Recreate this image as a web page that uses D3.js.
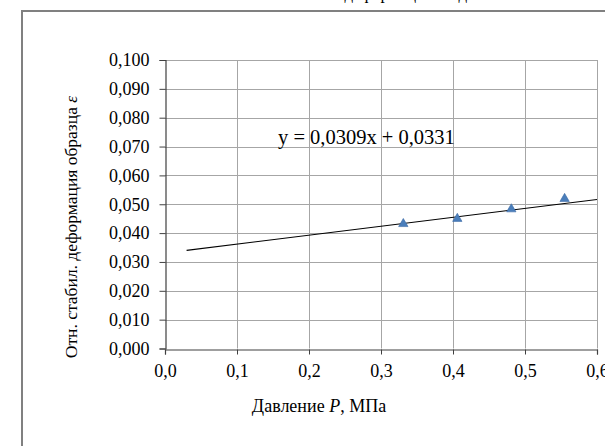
<!DOCTYPE html>
<html>
<head>
<meta charset="utf-8">
<script src="https://cdn.jsdelivr.net/npm/d3@7"></script>
<style>
  html, body { margin: 0; padding: 0; background: #fff; overflow: hidden; }
</style>
</head>
<body>
<svg id="chart" width="605" height="446"></svg>
<script>
// Measured pressure (MPa) and stabilised relative strain of the sample
const pressure = [0.331, 0.406, 0.481, 0.555];
const strain = [0.0432, 0.0450, 0.0483, 0.0519];

// Linear trend: y = 0.0309x + 0.0331, drawn from 0.03 to 0.6
const trendSlope = 0.0309;
const trendIntercept = 0.0331;
const trendRange = [0.03, 0.6];
const trendLabel = "y = 0,0309x + 0,0331";

const xTicks = [0, 0.1, 0.2, 0.3, 0.4, 0.5, 0.6];
const yTicks = [0, 0.01, 0.02, 0.03, 0.04, 0.05, 0.06, 0.07, 0.08, 0.09, 0.1];

const titleText = "Зависимость относительной деформации от давления";
const xTitle = ["Давление ", "P", ", МПа"];
const yTitle = ["Отн. стабил. деформация образца ", "ε"];

const FONT = "Liberation Serif";
const svg = d3.select("#chart");
const comma = s => s.replace(".", ",");

const x = d3.scaleLinear().domain([0, 0.6]).range([165, 597]);
const y = d3.scaleLinear().domain([0, 0.1]).range([348.5, 60]);

// chart frame
svg.append("rect")
  .attr("x", 22).attr("y", 11).attr("width", 700).attr("height", 500)
  .attr("fill", "none").attr("stroke", "#808080").attr("stroke-width", 2);

// title (sits above the visible area)
svg.append("text")
  .attr("x", 330).attr("y", -1).attr("text-anchor", "middle")
  .style("font-family", FONT).style("font-size", "17px").attr("fill", "#000")
  .text(titleText);

// gridlines
const grid = svg.append("g").attr("stroke", "#a6a6a6").attr("stroke-width", 1);
grid.selectAll("line.h").data(yTicks.slice(1)).join("line")
  .attr("x1", x(0)).attr("x2", x(0.6))
  .attr("y1", d => Math.round(y(d)) + 0.5).attr("y2", d => Math.round(y(d)) + 0.5);
grid.selectAll("line.v").data(xTicks.slice(1)).join("line")
  .attr("y1", y(0)).attr("y2", y(0.1))
  .attr("x1", d => Math.round(x(d)) + 0.5).attr("x2", d => Math.round(x(d)) + 0.5);

// axes
const xAxis = d3.axisBottom(x).tickValues(xTicks).tickSize(5).tickPadding(10)
  .tickFormat(d => comma(d3.format(".1f")(d)));
const yAxis = d3.axisLeft(y).tickValues(yTicks).tickSize(6).tickPadding(10)
  .tickFormat(d => comma(d3.format(".3f")(d)));

const gx = svg.append("g").attr("transform", `translate(0,${Math.round(y(0)) + 0.5})`).call(xAxis);
const gy = svg.append("g").attr("transform", `translate(${Math.round(x(0)) + 0.5},0)`).call(yAxis);
[gx, gy].forEach(g => {
  g.select(".domain").attr("stroke", "#404040").attr("stroke-width", 1.2);
  g.selectAll(".tick line").attr("stroke", "#404040");
  g.selectAll(".tick text").style("font-family", FONT).style("font-size", "18px").attr("fill", "#000");
});
gx.selectAll(".tick text").attr("dy", "0.68em");

// trend line
svg.append("line")
  .attr("x1", x(trendRange[0])).attr("y1", y(trendIntercept + trendSlope * trendRange[0]))
  .attr("x2", x(trendRange[1])).attr("y2", y(trendIntercept + trendSlope * trendRange[1]))
  .attr("stroke", "#000").attr("stroke-width", 1.1);

// data markers
svg.selectAll("path.pt").data(pressure).join("path")
  .attr("class", "pt")
  .attr("d", d3.symbol().type(d3.symbolTriangle).size(38))
  .attr("transform", (d, i) => `translate(${x(d)},${y(strain[i])})`)
  .attr("fill", "#4a7ebb").attr("stroke", "#3a6aa5").attr("stroke-width", 0.6);

// equation label
svg.append("text")
  .attr("x", 278).attr("y", 144)
  .style("font-family", FONT).style("font-size", "20.5px").attr("fill", "#000")
  .text(trendLabel);

// axis titles
const xt = svg.append("text").attr("x", 319).attr("y", 412)
  .attr("text-anchor", "middle")
  .style("font-family", FONT).style("font-size", "18px").attr("fill", "#000");
xt.append("tspan").text(xTitle[0]);
xt.append("tspan").style("font-style", "italic").text(xTitle[1]);
xt.append("tspan").text(xTitle[2]);

const yt = svg.append("text")
  .attr("transform", "translate(77,227) rotate(-90)")
  .attr("text-anchor", "middle")
  .style("font-family", FONT).style("font-size", "17.5px").attr("fill", "#000");
yt.append("tspan").text(yTitle[0]);
yt.append("tspan").style("font-style", "italic").text(yTitle[1]);
</script>
</body>
</html>
